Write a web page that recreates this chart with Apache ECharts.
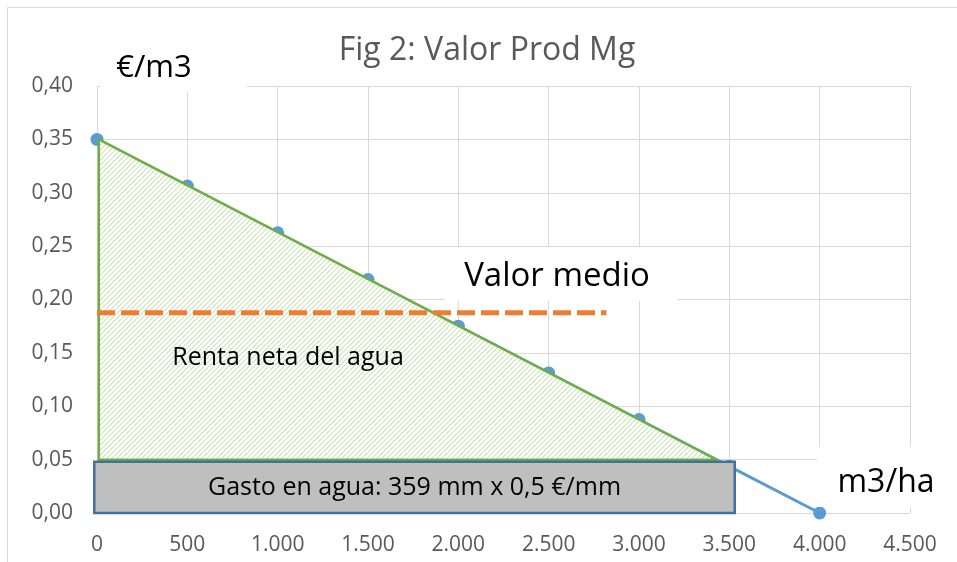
<!DOCTYPE html>
<html>
<head>
<meta charset="utf-8">
<script src="https://cdn.jsdelivr.net/npm/echarts@6/dist/echarts.min.js"></script>
<style>
  html, body { margin: 0; padding: 0; background: #ffffff; }
  #chart { width: 957px; height: 562px; }
</style>
</head>
<body>
<div id="chart"></div>
<script>
// Marginal product value of irrigation water (€/m3) against applied volume (m3/ha)
const volumes = [0, 500, 1000, 1500, 2000, 2500, 3000, 3500, 4000];
const marginalValue = [0.35, 0.30625, 0.2625, 0.21875, 0.175, 0.13125, 0.0875, 0.04375, 0];

// Average value of water and the extent of its dashed reference line
const meanValue = 0.1875;
const meanLineX = [0, 2820];

// Water cost block (359 mm at 0,5 €/mm) and the net water rent triangle above it
const costLevel = 0.05;
const costBlockX = [-15, 3530];
const rentTop = [10, 0.35];
const rentBaseX = [10, 3429];

// Axis ticks
const xTicks = [0, 500, 1000, 1500, 2000, 2500, 3000, 3500, 4000, 4500];
const yTicks = [0, 0.05, 0.10, 0.15, 0.20, 0.25, 0.30, 0.35, 0.40];

const FONT = '"Open Sans", "Noto Sans", sans-serif';

// Diagonal hatch used for the net-rent area
function makeHatch() {
  const s = 5;
  const c = document.createElement('canvas');
  c.width = s; c.height = s;
  const ctx = c.getContext('2d');
  const img = ctx.createImageData(s, s);
  for (let y = 0; y < s; y++) {
    for (let x = 0; x < s; x++) {
      const d = (x + y) % s;
      let rgb = [255, 255, 255];
      if (d === s - 1) rgb = [200, 228, 182];
      else if (d === 0) rgb = [232, 243, 224];
      const i = (y * s + x) * 4;
      img.data[i] = rgb[0]; img.data[i + 1] = rgb[1]; img.data[i + 2] = rgb[2]; img.data[i + 3] = 255;
    }
  }
  ctx.putImageData(img, 0, 0);
  return c;
}
const hatch = makeHatch();

const fmtThousands = v => String(Math.round(v)).replace(/\B(?=(\d{3})+(?!\d))/g, '.');
const fmtDecimal = v => v.toFixed(2).replace('.', ',');

const chart = echarts.init(document.getElementById('chart'), null, { renderer: 'canvas' });

// White text box: background rectangle plus a centred label at (tx, ty)
function textBox(x0, y0, x1, y1, tx, ty, text, size) {
  return {
    type: 'group', z: 20,
    children: [
      { type: 'rect', shape: { x: x0, y: y0, width: x1 - x0, height: y1 - y0 }, style: { fill: '#ffffff' }, z: 20 },
      { type: 'text', x: tx, y: ty, z: 21,
        style: { text: text, fill: '#000000', font: size + 'px ' + FONT, textAlign: 'center', textVerticalAlign: 'middle' } }
    ]
  };
}

chart.setOption({
  animation: false,
  backgroundColor: '#ffffff',
  grid: { left: 97, right: 47, top: 86, bottom: 49, containLabel: false },
  xAxis: {
    type: 'value', min: xTicks[0], max: xTicks[xTicks.length - 1], interval: 500,
    axisLine: { show: false }, axisTick: { show: false },
    splitLine: { show: true, lineStyle: { color: '#d9d9d9', width: 1 } },
    axisLabel: { color: '#595959', fontSize: 21, fontFamily: FONT, margin: 22, formatter: fmtThousands }
  },
  yAxis: {
    type: 'value', min: yTicks[0], max: yTicks[yTicks.length - 1], interval: 0.05,
    axisLine: { show: false }, axisTick: { show: false },
    splitLine: { show: true, lineStyle: { color: '#d9d9d9', width: 1 } },
    axisLabel: { color: '#595959', fontSize: 21, fontFamily: FONT, margin: 24, formatter: fmtDecimal }
  },
  graphic: [
    { type: 'rect', z: 0, shape: { x: 7.5, y: 7.5, width: 980, height: 600 },
      style: { fill: 'none', stroke: '#d9d9d9', lineWidth: 1 } },
    { type: 'text', x: 487, y: 51, z: 20,
      style: { text: 'Fig 2: Valor Prod Mg', fill: '#595959', font: '32px ' + FONT, textAlign: 'center', textVerticalAlign: 'middle' } },
    textBox(100, 46, 247, 92, 154, 68, '€/m3', 31),
    textBox(445, 247, 678, 301, 557, 277, 'Valor medio', 33),
    textBox(817, 447, 957, 507, 886, 483, 'm3/ha', 32),
    { type: 'text', x: 288, y: 358, z: 20,
      style: { text: 'Renta neta del agua', fill: '#000000', font: '25px ' + FONT, textAlign: 'center', textVerticalAlign: 'middle' } }
  ],
  series: [
    {
      name: 'Valor Prod Mg', type: 'line', z: 2,
      data: volumes.map((v, i) => [v, marginalValue[i]]),
      symbol: 'circle', symbolSize: 13, showAllSymbol: true,
      itemStyle: { color: '#5b9bd5' },
      lineStyle: { color: '#5b9bd5', width: 3 }
    },
    {
      name: 'Renta neta', type: 'custom', z: 3,
      data: [rentTop],
      renderItem: (params, api) => ({
        type: 'polygon',
        shape: { points: [
          api.coord(rentTop),
          api.coord([rentBaseX[0], costLevel]),
          api.coord([rentBaseX[1], costLevel])
        ] },
        style: { fill: { image: hatch, repeat: 'repeat' }, stroke: '#70ad47', lineWidth: 2.5 }
      })
    },
    {
      name: 'Valor medio', type: 'line', z: 4,
      data: meanLineX.map(x => [x, meanValue]),
      symbol: 'none',
      lineStyle: { color: '#ed7d31', width: 5, type: [18, 6] }
    },
    {
      name: 'Gasto en agua', type: 'custom', z: 5,
      data: [[costBlockX[0], 0]],
      renderItem: (params, api) => {
        const p0 = api.coord([costBlockX[0], costLevel]);
        const p1 = api.coord([costBlockX[1], 0]);
        return {
          type: 'group',
          children: [
            { type: 'rect', shape: { x: p0[0], y: p0[1] + 2, width: p1[0] - p0[0], height: p1[1] - p0[1] - 2 },
              style: { fill: '#bfbfbf', stroke: '#41719c', lineWidth: 2.5 } },
            { type: 'text', x: (p0[0] + p1[0]) / 2, y: (p0[1] + p1[1]) / 2 + 2,
              style: { text: 'Gasto en agua: 359 mm x 0,5 €/mm', fill: '#000000', font: '25px ' + FONT,
                       textAlign: 'center', textVerticalAlign: 'middle' } }
          ]
        };
      }
    }
  ]
});
</script>
</body>
</html>
